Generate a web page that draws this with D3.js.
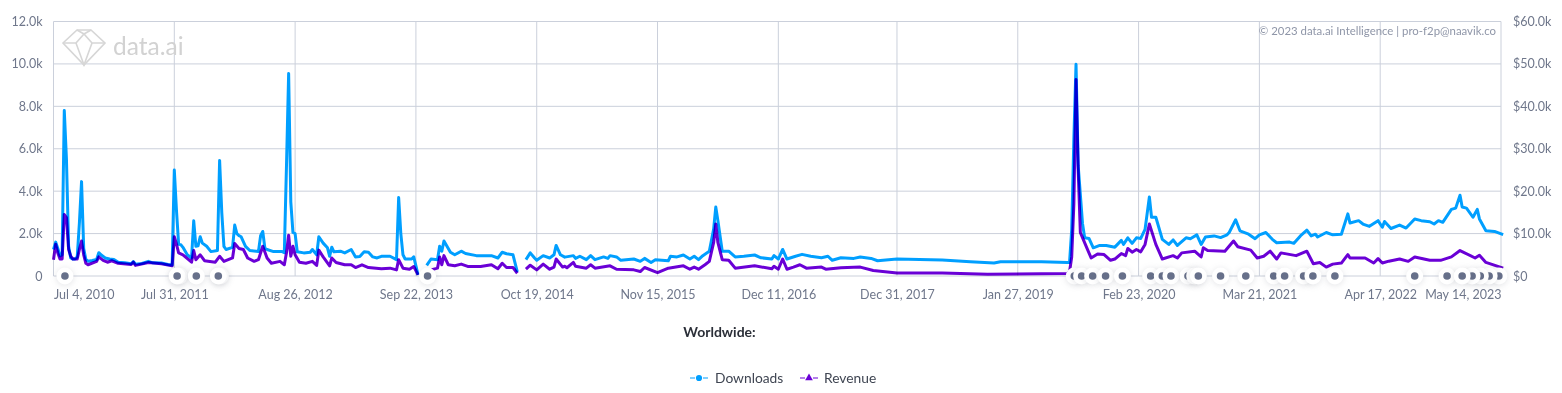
<!DOCTYPE html>
<html>
<head>
<meta charset="utf-8">
<script src="https://cdn.jsdelivr.net/npm/d3@7"></script>
<style>
  html, body { margin: 0; padding: 0; background: #fff; overflow: hidden; }
  text { font-family: Lato, "Noto Sans", sans-serif; }
</style>
</head>
<body>
<div id="chart"></div>
<script>
// Values. Weeks count from Jul 4, 2010, null = no data
const dlWeeks = [0,1,2,3,4,5,6,7,8,9,10,11,12,13,14,15,16,18,20,21,22,24,26,28,30,33,36,37,38,41,44,46,50,53,55,
  56,57,58,59,60,62,64,65,66,67,68,69,71,73,76,77,78,79,80,83,84,85,86,87,89,91,95,96,97,98,99,102,106,107,108,109,110,111,112,113,
  116,119,120,122,123,125,127,128,129,130,133,135,138,140,142,144,146,148,150,152,156,159,160,161,162,163,166,167,169,170,
  173,175,178,179,180,181,184,186,189,191,196,203,206,208,210,213,215,217,
  219,221,223,224,227,230,232,233,235,237,241,242,244,247,249,251,255,257,258,261,263,269,272,274,277,279,285,286,289,292,295,297,299,301,304,306,307,308,310,313,316,320,325,328,333,334,336,338,340,344,347,351,356,359,361,365,371,374,379,382,391,412,425,436,439,458,470,471,472,473,474,475,
  477,478,480,482,485,488,492,495,496,498,500,502,504,506,508,509,511,514,517,519,521,525,527,530,532,534,538,541,544,545,548,550,554,557,559,562,565,567,573,575,578,581,583,585,586,590,593,597,600,601,605,607,610,614,616,617,620,624,627,631,634,638,640,642,644,648,650,652,653,655,658,660,661,664,668,672];
const downloads = [1250,1600,1300,950,1000,7800,5500,1400,850,800,800,900,2500,4450,1300,780,700,730,780,1100,1000,850,800,780,650,630,580,680,560,590,690,620,610,540,520,
  5000,3100,1500,1480,1350,1000,850,2600,1400,1420,1850,1550,1400,1150,1200,5450,3000,1400,1250,1350,2400,2000,1900,1850,1400,1200,1150,1900,2100,1300,1250,1150,1150,1100,5200,9550,3500,2050,2000,1140,
  1090,1120,1250,1000,1850,1550,1330,930,1360,1140,1170,1090,1250,900,920,1140,1120,900,850,930,930,770,3700,2000,1000,800,800,900,50,null,
  500,800,770,1400,1170,1650,1120,1000,1170,1060,960,960,850,1120,1050,1000,200,null,
  770,1090,850,740,960,850,1000,1440,1000,890,960,830,930,770,960,770,900,830,960,900,740,800,690,830,640,770,720,930,900,990,800,930,770,960,1170,2200,3250,2600,1170,1170,900,930,990,860,800,960,800,1250,800,930,1020,930,860,930,740,860,830,900,830,720,800,750,670,610,670,670,640,640,2200,6500,9980,5200,
  2480,1800,1770,1330,1440,1440,1360,1680,1490,1800,1540,1800,1770,2200,3730,2770,2770,1730,1490,1700,1440,1800,1760,1940,1490,1840,1890,1810,1940,2050,2650,2130,1970,1760,1940,2050,1730,1570,1600,1540,1890,2160,1890,1970,1840,2050,1940,1970,2930,2500,2610,2450,2340,2610,2300,2570,2240,2400,2260,2690,2610,2560,2450,2610,2530,3140,3200,3810,3250,3200,2770,3140,2690,2130,2100,1950];

const revWeeks = [0,1,2,3,4,5,6,7,8,9,11,12,13,14,15,16,20,21,23,25,27,30,36,37,38,44,50,55,
  56,57,58,60,64,65,66,68,70,75,77,79,83,84,86,88,90,93,95,97,99,101,105,107,108,109,110,111,112,114,
  117,120,122,123,125,128,129,131,135,138,140,143,146,152,156,159,160,162,165,167,169,170,
  175,178,179,180,181,183,186,189,192,198,203,206,208,210,213,215,217,
  219,221,224,227,230,232,233,236,237,238,241,242,247,249,251,258,261,269,272,274,280,285,292,295,297,299,302,304,306,307,308,310,313,316,325,333,334,336,338,340,343,346,349,356,358,365,374,380,391,412,433,458,470,471,472,473,474,475,
  476,477,479,481,484,487,490,492,495,497,498,500,502,504,506,508,510,511,514,519,521,523,529,532,533,535,543,547,549,555,558,561,564,567,569,576,581,584,587,590,593,597,600,601,608,612,614,616,619,624,628,631,638,643,648,652,659,661,664,672];
const revenue = [3850,7500,5450,4000,4000,14500,13750,6250,4650,4000,4000,6250,8250,5000,3000,2650,3450,4500,3700,3250,3600,3000,2700,3250,2500,3200,2900,2400,
  9250,7500,5450,5000,3250,6000,3850,5000,3600,3250,4650,3450,4250,7650,6500,6250,4250,3450,3850,7000,4250,3000,3450,2650,5500,9600,4650,7000,5000,3250,
  3000,3450,2500,6100,4500,2400,4250,3200,2650,2650,2000,2650,2000,1700,1850,1450,3850,1850,1600,2250,250,null,
  1450,1850,4500,2650,4800,2650,2400,2800,2250,2250,2650,1700,3000,2000,2000,650,null,
  1600,2550,1450,2800,1600,2100,4000,2100,2300,1950,3200,2300,1850,2650,1850,2400,1600,1450,1050,2000,800,1850,2400,1600,2100,1600,2650,3450,7850,12250,7850,3850,3700,1850,2400,1700,2300,1600,4000,1600,2100,2650,1850,2100,1600,1950,2100,1300,725,725,400,550,600,1000,4500,17000,46300,25000,
  10250,9050,6650,4250,5200,5050,3700,4000,5300,4800,6500,5600,6250,5700,7450,12250,9050,7450,4000,4800,4250,5450,5850,4500,6650,6000,5850,8250,6900,6100,4250,4650,5850,4000,5450,4800,5850,2900,3200,2100,2800,3050,5050,4250,4250,3050,4100,3050,3500,4000,3450,4500,3700,3700,4500,6000,4250,4900,3200,1850];

const tickDates = ["2010-07-04","2011-07-31","2012-08-26","2013-09-22","2014-10-19","2015-11-15","2016-12-11","2017-12-31","2019-01-27","2020-02-23","2021-03-21","2022-04-17","2023-05-14"];
const leftTicks = [0,2000,4000,6000,8000,10000,12000];
const rightTicks = [0,10000,20000,30000,40000,50000,60000];
// app events along the baseline, in drawing order
const eventWeeks = [5.3,58.3,57.3,66.2,77.3,76.4,173.4,473.2,476.6,481.7,487.7,495.5,508.6,514,518,525.9,529,530.7,541,552.7,565.6,570.7,579.5,583.8,594,631,646,670,665.5,661.4,657.6,653];

const width = 1562, height = 393;
const margin = { top: 21.5, right: 61, bottom: 117, left: 53.5 };
const blue = "#009fff", purple = "#6a00d6", inkGrey = "#6f778b", gridGrey = "#cbd0db";

const start = new Date("2010-07-04T00:00:00Z");
const weekDate = w => new Date(+start + w * 7 * 864e5);

const svg = d3.select("#chart").append("svg")
    .attr("width", width)
    .attr("height", height);

// Scales
const x = d3.scaleUtc()
    .domain([new Date(tickDates[0]), new Date(tickDates[tickDates.length - 1])])
    .range([margin.left, width - margin.right]);
const yLeft = d3.scaleLinear().domain([0, 12000]).range([height - margin.bottom, margin.top]);
const yRight = d3.scaleLinear().domain([0, 60000]).range([height - margin.bottom, margin.top]);

// Grid
svg.append("g").selectAll("line").data(leftTicks).join("line")
    .attr("x1", margin.left).attr("x2", width - margin.right)
    .attr("y1", d => yLeft(d)).attr("y2", d => yLeft(d))
    .attr("stroke", gridGrey);
svg.append("g").selectAll("line").data(tickDates).join("line")
    .attr("x1", d => x(new Date(d))).attr("x2", d => x(new Date(d)))
    .attr("y1", margin.top).attr("y2", height - margin.bottom)
    .attr("stroke", gridGrey);

// Watermark
const mark = svg.append("g")
    .attr("transform", "translate(63,29)")
    .attr("fill", "none").attr("stroke", "#d6d6d6").attr("stroke-width", 1.6);
mark.append("path").attr("d", "M0 14 L14 1 L28 1 L42 14 L21 36 Z");
mark.append("path").attr("d", "M0 14 L13 14 L21 36 L29 14 L42 14 M13 14 L21 5 L29 14 M14 1 L21 5 L28 1");
svg.append("text").attr("x", 113).attr("y", 55)
    .attr("font-size", 24.5).attr("fill", "#d2d2d2").text("data.ai");

svg.append("text")
    .attr("x", 1496).attr("y", 35)
    .attr("text-anchor", "end").attr("font-size", 11.4).attr("fill", "#8f96a8")
    .text("© 2023 data.ai Intelligence | pro-f2p@naavik.co");

// Axes
const axisBottom = svg.append("g")
    .attr("transform", `translate(0,${height - margin.bottom})`)
    .call(d3.axisBottom(x)
        .tickValues(tickDates.map(d => new Date(d)))
        .tickFormat(d3.utcFormat("%b %-d, %Y"))
        .tickSize(0).tickPadding(14));
axisBottom.selectAll("text")
    .attr("text-anchor", (d, i) => i === 0 ? "start" : i === tickDates.length - 1 ? "end" : "middle");

const axisLeft = svg.append("g")
    .attr("transform", `translate(${margin.left},0)`)
    .call(d3.axisLeft(yLeft).tickValues(leftTicks)
        .tickFormat(d => d === 0 ? "0" : (d / 1000).toFixed(1) + "k")
        .tickSize(0).tickPadding(11));
const axisRight = svg.append("g")
    .attr("transform", `translate(${width - margin.right},0)`)
    .call(d3.axisRight(yRight).tickValues(rightTicks)
        .tickFormat(d => d === 0 ? "$0" : "$" + (d / 1000).toFixed(1) + "k")
        .tickSize(0).tickPadding(12));

[axisBottom, axisLeft, axisRight].forEach(a => {
    a.select(".domain").remove();
    a.selectAll("text").attr("font-size", 12.5).attr("fill", inkGrey).style("font-family", "Lato, sans-serif");
});

// Lines
const lineDl = d3.line()
    .defined(d => d[1] !== null)
    .x(d => x(weekDate(d[0])))
    .y(d => yLeft(d[1]));
const lineRev = d3.line()
    .defined(d => d[1] !== null)
    .x(d => x(weekDate(d[0])))
    .y(d => yRight(d[1]));

svg.append("path")
    .datum(dlWeeks.map((w, i) => [w, downloads[i]]))
    .attr("d", lineDl)
    .attr("fill", "none").attr("stroke", blue).attr("stroke-width", 3).attr("stroke-linejoin", "round");
svg.append("path")
    .datum(revWeeks.map((w, i) => [w, revenue[i]]))
    .attr("d", lineRev)
    .attr("fill", "none").attr("stroke", purple).attr("stroke-width", 3).attr("stroke-linejoin", "round")
    .style("mix-blend-mode", "multiply");

// Event markers
const events = svg.append("g").selectAll("g").data(eventWeeks).join("g")
    .attr("transform", d => `translate(${x(weekDate(d))},${height - margin.bottom})`);
events.append("circle").attr("r", 8.5).attr("fill", "#fff")
    .style("filter", "drop-shadow(0 1px 3px rgba(60,70,90,0.15))");
events.append("circle").attr("r", 3.8).attr("fill", "#67708a");

// Titles and legend
svg.append("text")
    .attr("x", 719.5).attr("y", 337)
    .attr("text-anchor", "middle").attr("font-size", 14).attr("font-weight", 700).attr("fill", "#2b2f38")
    .text("Worldwide:");

const legend = svg.append("g").attr("transform", "translate(0,378)");
[{ name: "Downloads", color: blue, x0: 690, tx: 715 }, { name: "Revenue", color: purple, x0: 800, tx: 824 }].forEach((s, i) => {
    legend.append("line").attr("x1", s.x0).attr("x2", s.x0 + 18)
        .attr("stroke", s.color).attr("stroke-width", 1).attr("stroke-dasharray", "5,8");
    legend.append("path")
        .attr("transform", `translate(${s.x0 + 9},0)`)
        .attr("d", d3.symbol().type(i === 0 ? d3.symbolCircle : d3.symbolTriangle).size(i === 0 ? 30 : 26)())
        .attr("fill", s.color);
    legend.append("text").attr("x", s.tx).attr("y", 4.5)
        .attr("font-size", 13.8).attr("fill", "#3f4552").text(s.name);
});
</script>
</body>
</html>
